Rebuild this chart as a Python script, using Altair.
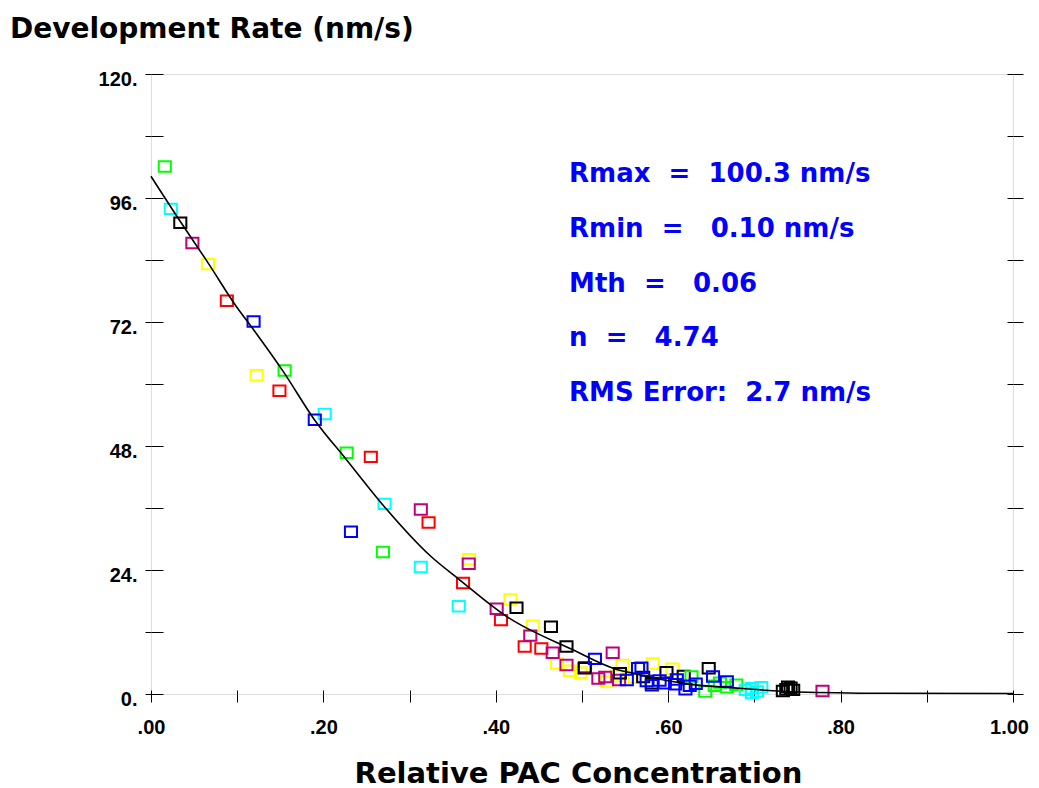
import altair as alt
import pandas as pd

# ---------------- data ----------------
series_names = ["yellow", "red", "magenta", "black", "green", "cyan", "blue"]
series_colors = ["#ffff00", "#ff0000", "#bf007f", "#000000", "#00ff00", "#00ffff", "#0000ff"]

yellow_x = [0.066, 0.1226, 0.369, 0.417, 0.443, 0.471, 0.486, 0.4985, 0.529, 0.547, 0.5615, 0.582, 0.605, 0.540]
yellow_y = [83.2, 61.7, 26.1, 18.3, 13.2, 5.9, 4.5, 4.1, 2.4, 5.6, 3.2, 5.9, 4.9, 3.5]

red_x = [0.088, 0.149, 0.255, 0.322, 0.362, 0.406, 0.4335, 0.4528]
red_y = [76.1, 58.7, 45.9, 33.2, 21.5, 14.3, 9.2, 8.8]

magenta_x = [0.048, 0.313, 0.3686, 0.401, 0.440, 0.466, 0.482, 0.5035, 0.5356, 0.519, 0.527, 0.543, 0.779]
magenta_y = [87.3, 35.7, 25.2, 16.5, 11.3, 8.0, 5.6, 5.2, 8.0, 3.0, 3.3, 2.7, 0.6]

black_x = [0.034, 0.424, 0.464, 0.482, 0.503, 0.544, 0.571, 0.581, 0.598, 0.618, 0.647, 0.737, 0.742, 0.745, 0.733, 0.739]
black_y = [91.2, 16.7, 13.0, 9.2, 5.0, 4.0, 3.3, 2.1, 4.2, 3.5, 5.0, 0.9, 1.2, 0.8, 0.6, 1.4]

green_x = [0.016, 0.155, 0.227, 0.269, 0.627, 0.643, 0.654, 0.679, 0.668, 0.660]
green_y = [102.1, 62.6, 46.7, 27.5, 3.4, 0.5, 1.6, 1.8, 1.3, 2.2]

cyan_x = [0.023, 0.2015, 0.271, 0.313, 0.357, 0.697, 0.708, 0.697, 0.690, 0.703]
cyan_y = [93.9, 54.2, 36.8, 24.6, 17.0, 1.1, 1.3, 0.2, 0.8, 0.5]

blue_x = [0.119, 0.190, 0.232, 0.515, 0.565, 0.552, 0.569, 0.581, 0.596, 0.608, 0.620, 0.632, 0.652, 0.668, 0.590, 0.610, 0.625, 0.575]
blue_y = [72.1, 53.1, 31.4, 6.8, 5.0, 2.7, 5.1, 1.7, 2.1, 1.9, 0.9, 2.0, 3.4, 2.4, 2.6, 2.8, 1.6, 2.5]

curve_x = [0.000, 0.035, 0.066, 0.099, 0.119, 0.1535, 0.190, 0.227, 0.271, 0.3236, 0.358, 0.4126, 0.490, 0.536, 0.559, 0.620, 0.683, 0.750, 0.850, 1.000]
curve_y = [100.2, 91.2, 83.5, 75.0, 70.5, 62.4, 53.0, 45.3, 36.2, 26.8, 22.1, 15.0, 8.5, 5.0, 4.0, 2.0, 1.1, 0.4, 0.15, 0.1]

ann_text = ["Rmax\u00a0 =\u00a0 100.3 nm/s",
            "Rmin\u00a0 =\u00a0 \u00a00.10 nm/s",
            "Mth\u00a0 =\u00a0 \u00a00.06",
            "n\u00a0 =\u00a0 \u00a04.74",
            "RMS Error:\u00a0 2.7 nm/s"]
ann_x = [0.485] * 5
ann_y = [99.1, 88.45, 77.9, 67.35, 56.7]

x_ticks = [0.0, 0.1, 0.2, 0.3, 0.4, 0.5, 0.6, 0.7, 0.8, 0.9, 1.0]
y_ticks = [0, 12, 24, 36, 48, 60, 72, 84, 96, 108, 120]

# ---------------- build tables ----------------
all_x = [yellow_x, red_x, magenta_x, black_x, green_x, cyan_x, blue_x]
all_y = [yellow_y, red_y, magenta_y, black_y, green_y, cyan_y, blue_y]
rows = []
for i, (xs, ys) in enumerate(zip(all_x, all_y)):
    for xv, yv in zip(xs, ys):
        rows.append({"conc": xv, "rate": yv, "series": series_names[i], "ord": i})
pts_df = pd.DataFrame(rows)
curve_df = pd.DataFrame({"conc": curve_x, "rate": curve_y})
ann_df = pd.DataFrame({"conc": ann_x, "rate": ann_y, "label": ann_text})

W, H = 862, 620
xscale = alt.Scale(domain=[0, 1], nice=False, zero=False)
yscale = alt.Scale(domain=[0, 120], nice=False, zero=False)

LBL = dict(labelFont="Liberation Sans", labelFontWeight="bold", labelFontSize=20,
           labelColor="black", tickColor="black", tickWidth=1, domain=False,
           grid=False, title=None)

x_lbl_expr = ("round(datum.value*10) % 2 === 0 ? (datum.value < 1 ? "
              "substring(format(datum.value, '.2f'), 1) : format(datum.value, '.2f')) : ''")
y_lbl_expr = "datum.value % 24 === 0 ? datum.value + '.' : ''"

x_axis_out = alt.Axis(orient="bottom", values=x_ticks, labelExpr=x_lbl_expr,
                      tickSize=8, labelPadding=15, labelFlush=False, labelOverlap=False,
                      labelOffset={"condition": {"test": "datum.value > 0.95", "value": -4}, "value": 0},
                      **LBL)
y_axis_out = alt.Axis(orient="left", values=y_ticks, labelExpr=y_lbl_expr,
                      tickSize=6, labelPadding=8, labelOffset=5, labelOverlap=False, **LBL)
x_axis_in = alt.Axis(orient="bottom", values=x_ticks, labels=False, tickSize=4, offset=-4,
                     tickColor="black", tickWidth=1, domain=False, grid=False, title=None)
y_axis_in = alt.Axis(orient="left", values=y_ticks, labels=False, tickSize=12, offset=-12,
                     tickColor="black", tickWidth=1, domain=False, grid=False, title=None)
y_axis_r_out = alt.Axis(orient="right", values=y_ticks, labels=False, tickSize=10,
                        tickColor="black", tickWidth=1, domain=False, grid=False, title=None)
y_axis_r_in = alt.Axis(orient="right", values=y_ticks, labels=False, tickSize=6, offset=-6,
                       tickColor="black", tickWidth=1, domain=False, grid=False, title=None)

square = "M-1.1,-0.95H1.1V0.95H-1.1Z"

points = alt.Chart(pts_df).mark_point(
    shape=square, size=121, filled=False, strokeWidth=2, opacity=1
).encode(
    x=alt.X("conc:Q", scale=xscale, axis=x_axis_out),
    y=alt.Y("rate:Q", scale=yscale, axis=y_axis_out),
    color=alt.Color("series:N", scale=alt.Scale(domain=series_names, range=series_colors), legend=None),
    order=alt.Order("ord:Q"),
)

curve = alt.Chart(curve_df).mark_line(
    color="black", strokeWidth=1.6, interpolate="monotone"
).encode(
    x=alt.X("conc:Q", scale=xscale, axis=x_axis_in),
    y=alt.Y("rate:Q", scale=yscale, axis=y_axis_in),
)

ann = alt.Chart(ann_df).mark_text(
    align="left", baseline="alphabetic", font="DejaVu Sans", fontWeight="bold",
    fontSize=26, color="#0000ff"
).encode(
    x=alt.X("conc:Q", scale=xscale, axis=None),
    y=alt.Y("rate:Q", scale=yscale, axis=y_axis_r_out),
    text="label:N",
)

ann2 = alt.Chart(ann_df.head(1)).mark_text(opacity=0).encode(
    x=alt.X("conc:Q", scale=xscale, axis=None),
    y=alt.Y("rate:Q", scale=yscale, axis=y_axis_r_in),
    text="label:N",
)

title_df = pd.DataFrame({"t": ["Development Rate (nm/s)"]})
ytitle = alt.Chart(title_df).mark_text(
    align="left", baseline="alphabetic", font="DejaVu Sans", fontWeight="bold",
    fontSize=28, color="black"
).encode(x=alt.value(-141), y=alt.value(-36), text="t:N")

xt_df = pd.DataFrame({"t": ["Relative PAC Concentration"]})
xtitle = alt.Chart(xt_df).mark_text(
    align="center", baseline="alphabetic", font="DejaVu Sans", fontWeight="bold",
    fontSize=29, color="black"
).encode(x=alt.value(427.5), y=alt.value(709), text="t:N")

chart = alt.layer(points, curve, ann, ann2, ytitle, xtitle).resolve_axis(
    x="independent", y="independent"
).properties(
    width=W, height=H,
    autosize=alt.AutoSizeParams(type="none"),
    padding={"left": 143, "top": 66, "right": 18, "bottom": 96},
).configure_view(stroke="black", strokeWidth=2.5).configure(background="white")

chart.save("out.html", embed_options={"renderer": "svg", "actions": False})
